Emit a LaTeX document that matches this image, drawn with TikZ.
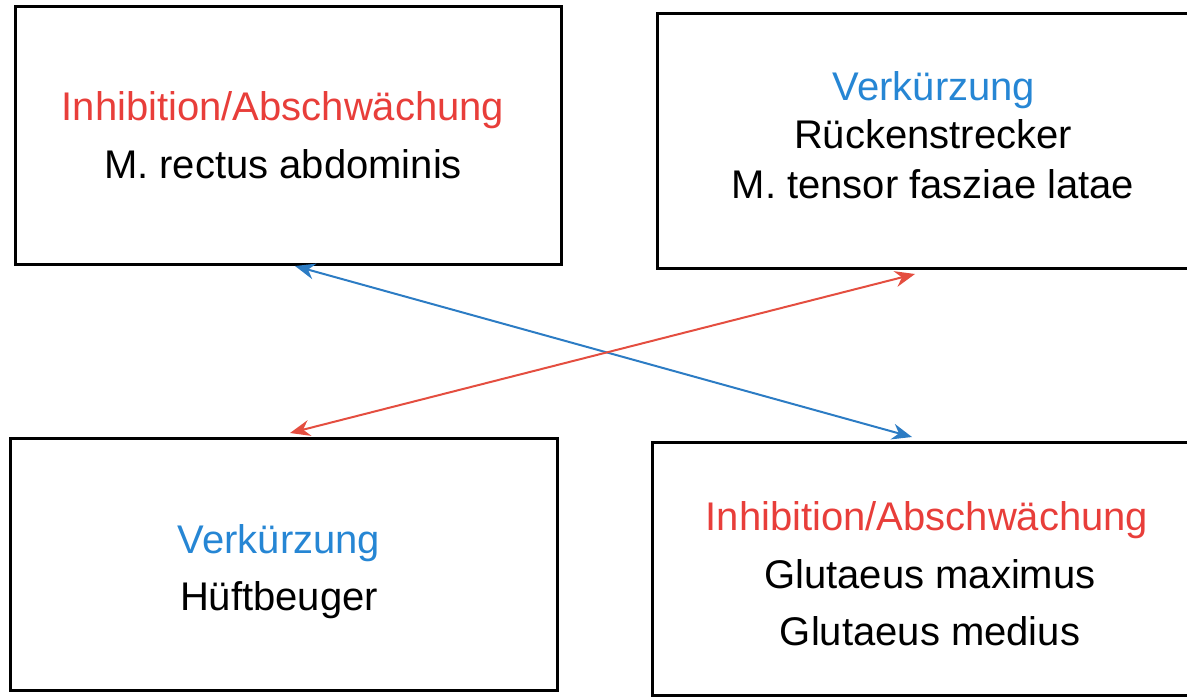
\documentclass[tikz,border=0pt]{standalone}
\usepackage{fontspec}
\setmainfont{Liberation Sans}
\usetikzlibrary{arrows.meta}
\definecolor{hemm}{RGB}{232,62,58}
\definecolor{kurz}{RGB}{38,134,212}
\definecolor{pfeilrot}{RGB}{228,78,64}
\definecolor{pfeilblau}{RGB}{44,124,196}
\tikzset{
  feld/.style={draw=black, line width=1.5pt, rectangle, inner sep=0pt},
  zeile/.style={font=\fontsize{20}{24}\selectfont, anchor=base, inner sep=0pt},
  rotzeile/.style={zeile, text=hemm},
  blauzeile/.style={zeile, text=kurz},
  pfeil/.style={line width=1pt, {Stealth[length=10pt,width=8pt]}-{Stealth[length=10pt,width=8pt]}}
}
\begin{document}
\begin{tikzpicture}[x=0.5pt,y=-0.5pt]
  \useasboundingbox (0,0) rectangle (1187,697);
  % four boxes
  \node[feld, minimum width=273pt, minimum height=129pt] (ol) at (288,135) {};
  \node[feld, minimum width=269pt, minimum height=127.5pt] (or) at (926,140.5) {};
  \node[feld, minimum width=273.5pt, minimum height=126pt] (ul) at (283.5,564) {};
  \node[feld, minimum width=271.5pt, minimum height=126.5pt] (ur) at (923.5,568.5) {};
  % texts, top left
  \node[rotzeile] (ol1) at (283,120) {Inhibition/Abschwächung};
  \node[zeile] (ol2) at (283,178) {M. rectus abdominis};
  % top right
  \node[blauzeile] (or1) at (934,100) {Verkürzung};
  \node[zeile] (or2) at (933,148) {Rückenstrecker};
  \node[zeile] (or3) at (933,198) {M. tensor fasziae latae};
  % bottom left
  \node[blauzeile] (ul1) at (279,553) {Verkürzung};
  \node[zeile] (ul2) at (279,610) {Hüftbeuger};
  % bottom right
  \node[rotzeile] (ur1) at (927,530) {Inhibition/Abschwächung};
  \node[zeile] (ur2) at (930,588) {Glutaeus maximus};
  \node[zeile] (ur3) at (930,645) {Glutaeus medius};
  % crossing arrows
  \coordinate (b1) at (295,266);
  \coordinate (b2) at (912,437);
  \coordinate (r1) at (290,433);
  \coordinate (r2) at (915,274);
  \draw[pfeil, pfeilblau] (b1) -- (b2);
  \draw[pfeil, pfeilrot] (r1) -- (r2);
\end{tikzpicture}
\end{document}
